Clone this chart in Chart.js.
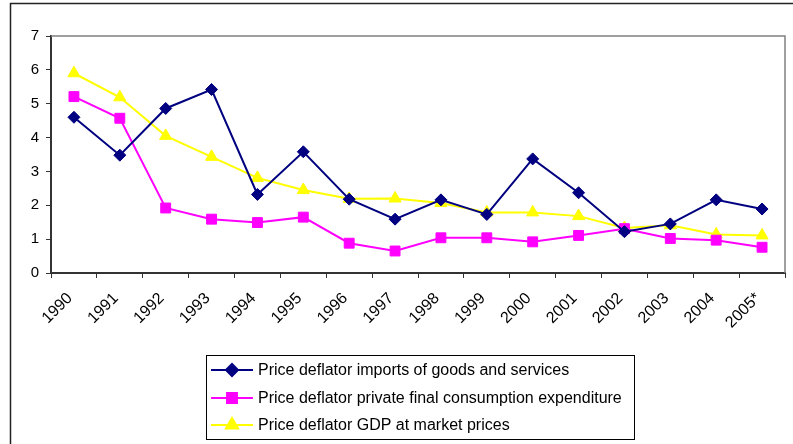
<!DOCTYPE html>
<html>
<head>
<meta charset="utf-8">
<script src="https://cdn.jsdelivr.net/npm/chart.js@4/dist/chart.umd.min.js"></script>
<style>
  html, body { margin: 0; padding: 0; background: #fff; }
  #wrap { width: 793px; height: 444px; position: relative; }
</style>
</head>
<body>
<div id="wrap"><canvas id="c" width="793" height="444"></canvas></div>
<script>
const categories = ['1990','1991','1992','1993','1994','1995','1996','1997','1998','1999','2000','2001','2002','2003','2004','2005*'];
const seriesNames = [
  'Price deflator imports of goods and services',
  'Price deflator private final consumption expenditure',
  'Price deflator GDP at market prices'
];
const importsDeflator = [4.6, 3.48, 4.86, 5.42, 2.32, 3.58, 2.18, 1.59, 2.16, 1.73, 3.37, 2.37, 1.22, 1.45, 2.16, 1.89];
const consumptionDeflator = [5.21, 4.57, 1.92, 1.59, 1.49, 1.65, 0.88, 0.65, 1.04, 1.04, 0.92, 1.11, 1.31, 1.02, 0.97, 0.76];
const gdpDeflator = [5.9, 5.19, 4.05, 3.43, 2.81, 2.45, 2.19, 2.2, 2.07, 1.79, 1.79, 1.68, 1.33, 1.41, 1.14, 1.11];
const yTicks = [0, 1, 2, 3, 4, 5, 6, 7];

const FONT = '"Liberation Sans", Arial, sans-serif';
const colors = ['#000080', '#FF00FF', '#FFFF00'];
const styles = ['rectRot', 'rect', 'triangle'];
const radii = [6, 7, 7];

const frame = {
  id: 'frame',
  beforeDraw(chart) {
    const ctx = chart.ctx;
    ctx.save();
    ctx.strokeStyle = '#222';
    ctx.lineWidth = 1.5;
    ctx.strokeRect(10.5, 3.5, 900, 600);
    ctx.restore();
  },
  beforeDatasetsDraw(chart) {
    const a = chart.chartArea, ctx = chart.ctx;
    ctx.save();
    ctx.strokeStyle = '#808080';
    ctx.lineWidth = 1.5;
    ctx.beginPath();
    ctx.moveTo(a.left, a.top);
    ctx.lineTo(a.right, a.top);
    ctx.lineTo(a.right, a.bottom);
    ctx.stroke();
    ctx.restore();
  },
  afterDraw(chart) {
    const ctx = chart.ctx;
    ctx.save();
    const bx = 206, by = 355, bw = 428, bh = 84;
    ctx.strokeStyle = '#000';
    ctx.lineWidth = 1;
    ctx.strokeRect(bx + 0.5, by + 0.5, bw, bh);
    const rows = [370, 398, 425];
    chart.data.datasets.forEach((ds, i) => {
      const y = rows[i];
      ctx.strokeStyle = ds.borderColor;
      ctx.lineWidth = 2;
      ctx.beginPath();
      ctx.moveTo(211, y);
      ctx.lineTo(253, y);
      ctx.stroke();
      ctx.fillStyle = ds.backgroundColor;
      ctx.strokeStyle = ds.borderColor;
      Chart.helpers.drawPoint(ctx, {pointStyle: ds.pointStyle, radius: ds.pointRadius, borderWidth: 1, rotation: 0}, 232, y);
      ctx.fillStyle = '#000';
      ctx.font = '16px ' + FONT;
      ctx.textBaseline = 'middle';
      ctx.textAlign = 'left';
      ctx.fillText(ds.label, 258, y + 1);
    });
    ctx.restore();
  }
};

const seriesData = [importsDeflator, consumptionDeflator, gdpDeflator];

new Chart(document.getElementById('c'), {
  type: 'line',
  data: {
    labels: categories,
    datasets: seriesData.map((d, i) => ({
      label: seriesNames[i],
      data: d,
      borderColor: colors[i],
      backgroundColor: colors[i],
      borderWidth: 2,
      pointStyle: styles[i],
      pointRadius: radii[i],
      pointBorderWidth: 1,
      pointBackgroundColor: colors[i],
      pointBorderColor: colors[i],
      tension: 0,
      fill: false
    }))
  },
  options: {
    responsive: false,
    animation: false,
    layout: { padding: { top: 36, right: 4, left: 0, bottom: 0 } },
    plugins: { legend: { display: false }, tooltip: { enabled: false } },
    scales: {
      x: {
        offset: true,
        grid: { offset: true, drawOnChartArea: false, drawTicks: true, tickLength: 5, color: '#333', lineWidth: 1 },
        border: { display: true, color: '#333', width: 2 },
        ticks: { font: { family: FONT, size: 16 }, color: '#000', minRotation: 45, maxRotation: 45, autoSkip: false, padding: 11, labelOffset: -4 },
        afterFit(s) { s.height = 171; }
      },
      y: {
        min: 0, max: 7,
        afterBuildTicks(s) { s.ticks = yTicks.map(v => ({ value: v })); },
        grid: { drawOnChartArea: false, drawTicks: true, tickLength: 5, color: '#333' },
        border: { display: true, color: '#333', width: 2 },
        ticks: { font: { family: FONT, size: 15 }, color: '#000', padding: 7 },
        afterFit(s) { s.width = 51; }
      }
    }
  },
  plugins: [frame]
});
</script>
</body>
</html>
